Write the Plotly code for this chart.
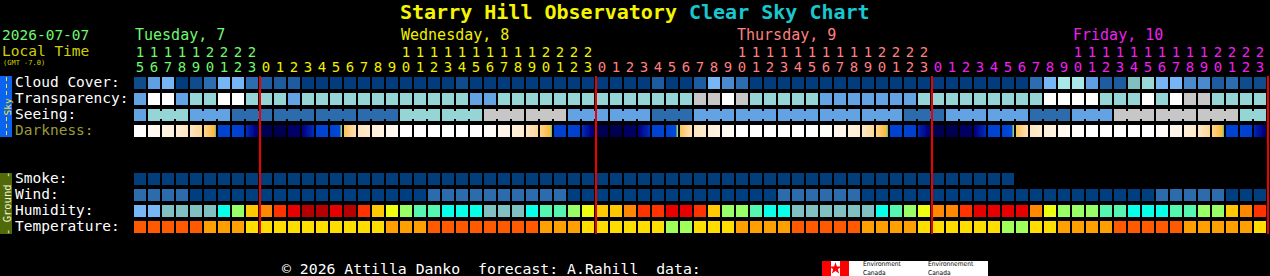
import plotly.graph_objects as go

# ---------------------------------------------------------------- data
TITLE_A = "Starry Hill Observatory"
TITLE_B = "Clear Sky Chart"
DATE_LABEL = "2026-07-07"
LOCAL_LABEL = "Local Time"
GMT_LABEL = "(GMT -7.0)"
FOOTER = "© 2026 Attilla Danko  forecast: A.Rahill  data:"
LOGO_EN = "Environment<br>Canada"
LOGO_FR = "Environnement<br>Canada"

DAY_NAMES = ["Tuesday, 7", "Wednesday, 8", "Thursday, 9", "Friday, 10"]
DAY_FIRST_HOUR = [15, 0, 0, 0]
DAY_LAST_HOUR = [23, 23, 23, 23]

SKY_LABELS = ["Cloud Cover:", "Transparency:", "Seeing:", "Darkness:"]
GROUND_LABELS = ["Smoke:", "Wind:", "Humidity:", "Temperature:"]

# cloud cover class per hour (index into CLOUD_PAL)
CLOUD = [
    1, 5, 6, 0, 1, 3, 6, 6, 3, 2,
    2, 2, 0, 0, 0, 0, 0, 0, 0, 0,
    0, 0, 0, 1, 0, 0, 0, 0, 0, 0,
    0, 0, 0, 0, 0, 0, 0, 2, 0, 0,
    2, 6, 4, 3, 0, 0, 0, 0, 0, 0,
    0, 0, 0, 0, 0, 0, 0, 0, 0, 0,
    0, 0, 0, 0, 3, 6, 8, 8, 5, 2,
    2, 9, 7, 6, 6, 4, 4, 2, 3, 1,
    1]

# transparency class (0 too cloudy .. 4 above average)
TRANSP = [
    3, 0, 0, 3, 2, 2, 0, 0, 2, 2,
    2, 3, 2, 2, 2, 2, 2, 2, 2, 2,
    2, 2, 2, 2, 3, 3, 2, 2, 2, 2,
    2, 2, 2, 2, 2, 2, 2, 2, 2, 2,
    1, 1, 0, 1, 2, 2, 2, 2, 2, 3,
    3, 3, 3, 3, 3, 3, 2, 2, 2, 2,
    2, 2, 2, 2, 2, 0, 0, 0, 0, 2,
    2, 2, 0, 2, 0, 1, 1, 2, 2, 2,
    2]

# seeing class (3-hour forecasts)
SEEING = [
    3, 2, 2, 2, 3, 3, 3, 4, 4, 4,
    4, 4, 4, 4, 4, 4, 4, 4, 4, 2,
    2, 2, 2, 2, 2, 1, 1, 1, 1, 1,
    1, 3, 3, 3, 3, 3, 3, 4, 4, 4,
    3, 3, 3, 3, 3, 3, 3, 3, 3, 3,
    3, 3, 3, 3, 3, 4, 4, 4, 3, 3,
    3, 3, 3, 3, 4, 4, 4, 3, 3, 3,
    1, 1, 1, 1, 1, 1, 1, 1, 1, 2,
    2]

# sky darkness (0 = daylight, 1 = darkest) at start and end of each hour
DARK_START = [
    0, .07, .15, .21, .30, .41, .62, .62, .70, 1,
    1, .94, .88, .62, .62, .50, .30, .20, .10, 0,
    0, 0, 0, 0, 0, .05, .12, .19, .29, .42,
    .63, .62, .70, 1, 1, .95, .88, .62, .62, .50,
    .30, .20, .08, 0, 0, 0, 0, 0, 0, .03,
    .10, .18, .28, .42, .62, .62, .72, 1, 1, .95,
    .88, .62, .62, .50, .30, .20, .10, .04, 0, 0,
    0, 0, 0, .05, .12, .20, .28, .42, .62, .62,
    .72]
DARK_END = [
    0, .08, .19, .29, .40, .552, .62, .64, .92, 1,
    1, .94, .70, .62, .54, .34, .25, .15, .06, 0,
    0, 0, 0, 0, 0, .05, .15, .25, .40, .552,
    .63, .64, .92, 1, 1, .95, .70, .62, .54, .33,
    .25, .15, .05, 0, 0, 0, 0, 0, 0, .03,
    .12, .22, .40, .552, .62, .64, .92, 1, 1, .95,
    .70, .62, .54, .33, .25, .15, .07, .02, 0, 0,
    0, 0, 0, .05, .15, .26, .40, .552, .62, .64,
    .92]

# smoke (None = no forecast)
SMOKE = [
    0, 0, 0, 0, 0, 0, 0, 0, 0, 0,
    0, 0, 0, 0, 0, 0, 0, 0, 0, 0,
    0, 0, 0, 0, 0, 0, 0, 0, 0, 0,
    0, 0, 0, 0, 0, 0, 0, 0, 0, 0,
    0, 0, 0, 0, 0, 0, 0, 0, 0, 0,
    0, 0, 0, 0, 0, 0, 0, 0, 0, 0,
    0, 0, 0, None, None, None, None, None, None, None,
    None, None, None, None, None, None, None, None, None, None,
    None]

WIND = [
    1, 1, 1, 1, 0, 0, 0, 0, 0, 0,
    0, 0, 0, 0, 0, 0, 0, 0, 0, 0,
    0, 1, 1, 1, 1, 1, 1, 1, 1, 1,
    1, 0, 0, 0, 0, 0, 0, 0, 0, 0,
    0, 0, 0, 0, 0, 0, 1, 1, 1, 1,
    1, 1, 0, 0, 0, 0, 0, 0, 0, 0,
    0, 0, 0, 0, 0, 0, 0, 0, 0, 0,
    0, 0, 0, 1, 1, 1, 1, 1, 0, 0,
    0]

HUMIDITY = [
    0, 0, 1, 1, 1, 1, 2, 4, 6, 7,
    8, 9, 10, 10, 9, 10, 8, 6, 5, 4,
    3, 3, 2, 2, 2, 1, 1, 1, 2, 3,
    3, 4, 5, 6, 6, 7, 8, 8, 9, 9,
    8, 6, 4, 4, 3, 2, 2, 1, 1, 1,
    1, 1, 1, 2, 3, 4, 5, 7, 7, 8,
    9, 9, 9, 9, 7, 5, 4, 4, 4, 3,
    3, 2, 2, 2, 3, 3, 4, 4, 6, 7,
    8]

TEMP = [
    3, 3, 3, 3, 3, 2, 2, 2, 1, 1,
    1, 1, 1, 1, 1, 1, 1, 1, 2, 2,
    2, 3, 3, 3, 3, 3, 3, 3, 3, 2,
    2, 2, 1, 1, 1, 1, 1, 1, 0, 0,
    1, 1, 1, 2, 2, 2, 2, 3, 3, 3,
    3, 3, 2, 2, 2, 2, 1, 1, 1, 1,
    1, 1, 0, 0, 1, 1, 2, 2, 2, 2,
    3, 3, 3, 3, 3, 2, 2, 2, 2, 2,
    1]

# ---------------------------------------------------------------- styles
CLOUD_PAL = ["#003C7E", "#0F4C8E", "#1D5CA0", "#2C6CB0", "#4A8ACF",
             "#5FA0E4", "#76B6F6", "#9AD8D8", "#A8E8E8", "#80C0C0"]
SKY_PAL = ["#FFFFFF", "#C7C7C7", "#95D5D5", "#63A3E3", "#2C6CAC", "#003F7F"]
SMOKE_PAL = ["#023E7C"]
WIND_PAL = ["#003F7F", "#2C6CAC"]
HUM_PAL = ["#77B7F7", "#80C0C0", "#08FFE8", "#55F7B0", "#99FF66", "#EEFF11",
           "#FFC800", "#FF8800", "#FF3300", "#E60000", "#B40000"]
TEMP_PAL = ["#A0FF58", "#FFDD00", "#FFA000", "#FF5A00"]
DARK_STOPS = [(0.00, "#FFFFFF"), (0.10, "#FFF7EC"), (0.20, "#FFEFD9"),
              (0.30, "#FFE5BF"), (0.40, "#FFD699"), (0.47, "#FFC868"),
              (0.53, "#FFB838"), (0.545, "#90D078"), (0.555, "#0048D8"),
              (0.64, "#0040D0"), (0.72, "#0028B8"), (0.80, "#00109C"),
              (0.88, "#000080"), (0.95, "#000064"), (1.00, "#000050")]
DAY_COLORS = ["#70F870", "#F0F000", "#FF8080", "#F020F0"]

MONO = "DejaVu Sans Mono"
W, H = 1270, 276
X0, PITCH, CELL = 134, 14, 12
ROW_TOP = {"cloud": 77, "transp": 93, "seeing": 109, "dark": 125,
           "smoke": 173, "wind": 189, "hum": 205, "temp": 221}
SLIVERS = 12


def dx(px):
    """pixel x -> data x"""
    return (px - X0) / PITCH


def hex2rgb(h):
    h = h.lstrip("#")
    return [int(h[i:i + 2], 16) for i in (0, 2, 4)]


def dark_color(v):
    for (a, ca), (b, cb) in zip(DARK_STOPS[:-1], DARK_STOPS[1:]):
        if v <= b:
            t = 0 if b == a else (v - a) / (b - a)
            t = min(max(t, 0), 1)
            ra, rb = hex2rgb(ca), hex2rgb(cb)
            return "rgb(%d,%d,%d)" % tuple(round(ra[k] + (rb[k] - ra[k]) * t) for k in range(3))
    return DARK_STOPS[-1][1]


# hours per column
hours, day_of_col = [], []
for d, (h0, h1) in enumerate(zip(DAY_FIRST_HOUR, DAY_LAST_HOUR)):
    for h in range(h0, h1 + 1):
        hours.append(h)
        day_of_col.append(d)
N = len(hours)

fig = go.Figure()


def add_row(values, palette, top):
    xs, cols = [], []
    for i, v in enumerate(values):
        if v is None:
            continue
        xs.append(i + CELL / 2 / PITCH)
        cols.append(palette[v])
    fig.add_trace(go.Bar(x=xs, y=[CELL] * len(xs), base=[top] * len(xs),
                         width=CELL / PITCH, marker=dict(color=cols, line=dict(width=0)),
                         hoverinfo="skip"))


add_row(CLOUD, CLOUD_PAL, ROW_TOP["cloud"])
add_row(TRANSP, SKY_PAL, ROW_TOP["transp"])
add_row(SEEING, SKY_PAL, ROW_TOP["seeing"])

# seeing: join the hours of one 3-hour forecast
bx, bc = [], []
for i in range(N - 1):
    if i % 3 != 0 and SEEING[i] == SEEING[i + 1]:
        bx.append(i + (CELL + 1) / PITCH)
        bc.append(SKY_PAL[SEEING[i]])
fig.add_trace(go.Bar(x=bx, y=[8] * len(bx), base=[ROW_TOP["seeing"] + 2] * len(bx),
                     width=(PITCH - CELL) / PITCH, marker=dict(color=bc, line=dict(width=0)),
                     hoverinfo="skip"))

# darkness with gradient inside each hour
sx, sc = [], []
for i in range(N):
    a, b = DARK_START[i], DARK_END[i]
    for k in range(SLIVERS):
        f = (k + 0.5) / SLIVERS
        sx.append(i + (k + 0.5) * (CELL / SLIVERS) / PITCH)
        sc.append(dark_color(a + (b - a) * f))
fig.add_trace(go.Bar(x=sx, y=[CELL] * len(sx), base=[ROW_TOP["dark"]] * len(sx),
                     width=CELL / SLIVERS / PITCH, marker=dict(color=sc, line=dict(width=0)),
                     hoverinfo="skip"))

add_row(SMOKE, SMOKE_PAL, ROW_TOP["smoke"])
add_row(WIND, WIND_PAL, ROW_TOP["wind"])
add_row(HUMIDITY, HUM_PAL, ROW_TOP["hum"])
add_row(TEMP, TEMP_PAL, ROW_TOP["temp"])

# midnight lines
lx, ly = [], []
for i in range(1, N + 1):
    if i == N or day_of_col[i] != day_of_col[i - 1]:
        lx += [i, i, None]
        ly += [76, 234, None]
fig.add_trace(go.Scatter(x=lx, y=ly, mode="lines", line=dict(color="#EE0000", width=2),
                         hoverinfo="skip"))

# hour digits
cx = [i + CELL / 2 / PITCH for i in range(N)]
ccol = [DAY_COLORS[d] for d in day_of_col]
fig.add_trace(go.Scatter(x=cx, y=[68] * N, mode="text", text=[str(h % 10) for h in hours],
                         textfont=dict(family=MONO, size=14, color=ccol),
                         textposition="middle center", hoverinfo="skip"))
tx = [cx[i] for i in range(N) if hours[i] >= 10]
tt = [str(hours[i] // 10) for i in range(N) if hours[i] >= 10]
tc = [ccol[i] for i in range(N) if hours[i] >= 10]
fig.add_trace(go.Scatter(x=tx, y=[53] * len(tx), mode="text", text=tt,
                         textfont=dict(family=MONO, size=14, color=tc),
                         textposition="middle center", hoverinfo="skip"))

# maple leaf of the logo
fig.add_trace(go.Scatter(x=[dx(835.5)], y=[268.5], mode="markers",
                         marker=dict(symbol="star", size=9, color="#FF0000", line=dict(width=0)),
                         hoverinfo="skip"))

ann = []


def text(px, py, s, color, size, anchor="left", family=MONO, angle=0, align="left"):
    ann.append(dict(x=dx(px), y=py, xref="x", yref="y", text=s, showarrow=False,
                    xanchor=anchor, yanchor="middle", borderpad=0, textangle=angle,
                    align=align, font=dict(family=family, size=size, color=color)))


# day names above first two-digit hour
for d, name in enumerate(DAY_NAMES):
    first = next(i for i in range(N) if day_of_col[i] == d and hours[i] >= 10)
    text(X0 + first * PITCH, 35, name, DAY_COLORS[d], 15)

text(635, 11.5, "<b><span style='color:#F5F500'>%s</span> <span style='color:#18C8D0'>%s</span></b>"
     % (TITLE_A, TITLE_B), "#F5F500", 20, anchor="center")
text(1, 34.5, DATE_LABEL, DAY_COLORS[0], 14.5)
text(1, 50.5, LOCAL_LABEL, "#D0D000", 14.5)
text(2, 62.5, GMT_LABEL, "#D0D000", 7)

for lab, key in zip(SKY_LABELS, ["cloud", "transp", "seeing", "dark"]):
    text(14, ROW_TOP[key] + 4.5, lab, "#9A9A3C" if key == "dark" else "#FFFFFF", 14.5)
for lab, key in zip(GROUND_LABELS, ["smoke", "wind", "hum", "temp"]):
    text(14, ROW_TOP[key] + 4.5, lab, "#FFFFFF", 14.5)

text(281, 268, FOOTER.replace(" ", "\u00a0"), "#FFFFFF", 14.8)

# side bars and logo panels
shapes = [
    dict(type="rect", xref="x", yref="y", x0=dx(0), x1=dx(12), y0=76, y1=137,
         fillcolor="#0A64F0", line=dict(width=0), layer="below"),
    dict(type="rect", xref="x", yref="y", x0=dx(0), x1=dx(12), y0=173, y1=234,
         fillcolor="#506A0A", line=dict(width=0), layer="below"),
    dict(type="line", xref="x", yref="y", x0=dx(6.5), x1=dx(6.5), y0=77, y1=97,
         line=dict(color="#FFE020", width=1, dash="4px,3px")),
    dict(type="line", xref="x", yref="y", x0=dx(6.5), x1=dx(6.5), y0=117, y1=137,
         line=dict(color="#FFE020", width=1, dash="4px,3px")),
    dict(type="rect", xref="x", yref="y", x0=dx(822), x1=dx(831), y0=261, y1=276,
         fillcolor="#FF0000", line=dict(width=0), layer="below"),
    dict(type="rect", xref="x", yref="y", x0=dx(831), x1=dx(840), y0=261, y1=276,
         fillcolor="#FFFFFF", line=dict(width=0), layer="below"),
    dict(type="rect", xref="x", yref="y", x0=dx(840), x1=dx(849), y0=261, y1=276,
         fillcolor="#FF0000", line=dict(width=0), layer="below"),
    dict(type="rect", xref="x", yref="y", x0=dx(849), x1=dx(988), y0=261, y1=276,
         fillcolor="#FFFFFF", line=dict(width=0), layer="below"),
]
text(6.5, 107, "Sky", "#FFE020", 9.5, anchor="center", angle=-90)
text(6.5, 203.5, "- Ground -", "#F4F4D8", 10.5, anchor="center", angle=-90)
text(862, 268.5, LOGO_EN, "#000000", 6.6, family="DejaVu Sans Condensed")
text(927, 268.5, LOGO_FR, "#000000", 6.6, family="DejaVu Sans Condensed")

fig.update_layout(
    width=W, height=H, margin=dict(l=0, r=0, t=0, b=0, pad=0),
    paper_bgcolor="black", plot_bgcolor="black", showlegend=False,
    barmode="overlay",
    xaxis=dict(range=[dx(0), dx(W)], visible=False, fixedrange=True),
    yaxis=dict(range=[H, 0], visible=False, fixedrange=True),
    annotations=ann, shapes=shapes,
)
fig.write_html("out.html")
